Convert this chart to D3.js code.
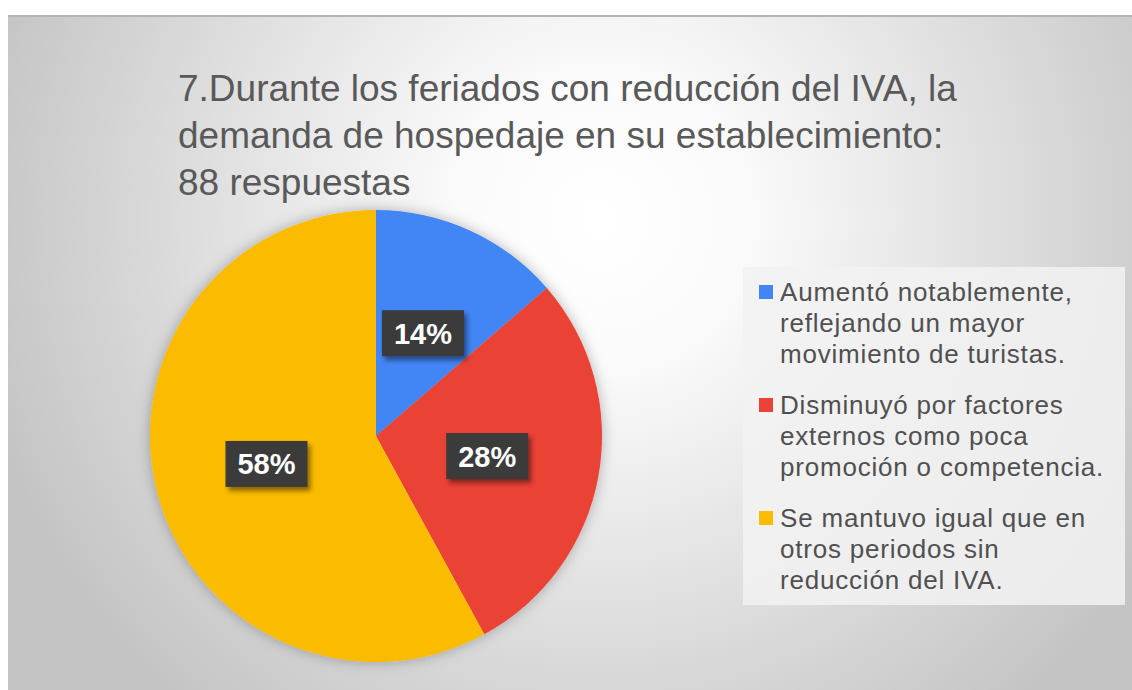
<!DOCTYPE html>
<html>
  <head>
    <meta charset="utf-8">
    <title>Pie chart</title>
    <style>
      body { margin: 0; background: #fff; }
      text { font-family: 'Liberation Sans', Arial, sans-serif; }
    </style>
  </head>
  <body>
    <div><svg id='piechart'/></div>
  </body>
  <script type="text/javascript" src="https://cdn.jsdelivr.net/npm/d3@7"></script>
  <script type="text/javascript">
    // datos de la encuesta (88 respuestas)
    const titleLines = [
      '7.Durante los feriados con reducción del IVA, la',
      'demanda de hospedaje en su establecimiento:',
      '88 respuestas'
    ];
    const categories = [
      'Aumentó notablemente, reflejando un mayor movimiento de turistas.',
      'Disminuyó por factores externos como poca promoción o competencia.',
      'Se mantuvo igual que en otros periodos sin reducción del IVA.'
    ];
    const counts = [12, 25, 51];
    const colors = ['#4285F4', '#EA4335', '#FBBC04'];

    const [width, height] = [1132, 690];
    var svg = d3.select('#piechart')
      .attr('width', width)
      .attr('height', height)

    var defs = svg.append('defs')

    // fondo degradado radial
    var grad = defs.append('radialGradient')
      .attr('id', 'bg')
      .attr('gradientUnits', 'userSpaceOnUse')
      .attr('cx', 600).attr('cy', 220).attr('r', 640)
    grad.append('stop').attr('offset', 0).attr('stop-color', '#ffffff')
    grad.append('stop').attr('offset', 0.22).attr('stop-color', '#fbfbfb')
    grad.append('stop').attr('offset', 1).attr('stop-color', '#c4c4c4')

    var shadow = defs.append('filter').attr('id', 'pieShadow')
      .attr('x', '-20%').attr('y', '-20%').attr('width', '140%').attr('height', '140%')
    shadow.append('feDropShadow')
      .attr('dx', 0).attr('dy', 0).attr('stdDeviation', 7)
      .attr('flood-color', '#000').attr('flood-opacity', 0.28)

    var boxShadow = defs.append('filter').attr('id', 'boxShadow')
      .attr('x', '-20%').attr('y', '-20%').attr('width', '150%').attr('height', '160%')
    boxShadow.append('feDropShadow')
      .attr('dx', 3).attr('dy', 4).attr('stdDeviation', 2.5)
      .attr('flood-color', '#000').attr('flood-opacity', 0.45)

    svg.append('rect')
      .attr('x', 8).attr('y', 15)
      .attr('width', width - 8).attr('height', height - 15)
      .attr('fill', 'url(#bg)')
    svg.append('line')
      .attr('x1', 8).attr('x2', width)
      .attr('y1', 16).attr('y2', 16)
      .attr('stroke', '#b4b4b4').attr('stroke-width', 2)

    // titulo
    svg.append('g')
      .selectAll('text')
      .data(titleLines)
      .enter()
      .append('text')
      .attr('x', 178)
      .attr('y', (d, i) => 101 + i * 47)
      .attr('fill', '#595959')
      .style('font-size', '37px')
      .text(d => d)

    // pastel
    var radius = 226
    var cx = 376, cy = 436
    var arc = d3.arc().innerRadius(0).outerRadius(radius)

    var drawData = d3.pie()
      .value(d => d)
      .sort(null)
      .startAngle(0)
      .endAngle(Math.PI * 2)(counts)

    var colorScale = d3.scaleOrdinal()
      .domain(d3.range(0, counts.length))
      .range(colors)

    var g = svg.append('g')
      .attr('transform', 'translate(' + cx + ',' + cy + ')')

    g.append('g')
      .attr('filter', 'url(#pieShadow)')
      .selectAll('path')
      .data(drawData)
      .enter()
      .append('path')
      .attr('fill', d => colorScale(d.index))
      .attr('d', arc)

    // etiquetas de porcentaje
    var total = d3.sum(counts)
    var labels = g.append('g')
      .selectAll('g')
      .data(drawData)
      .enter()
      .append('g')
      .attr('transform', d => 'translate(' + arc.centroid(d) + ')')

    labels.append('rect')
      .attr('x', -41).attr('y', -23)
      .attr('width', 82).attr('height', 46)
      .attr('fill', '#3b3b3b')
      .attr('filter', 'url(#boxShadow)')

    labels.append('text')
      .attr('text-anchor', 'middle')
      .attr('dy', '0.36em')
      .attr('fill', '#fff')
      .style('font-size', '29px')
      .style('font-weight', 'bold')
      .text(d => Math.round(d.data / total * 100) + '%')

    // leyenda
    svg.append('rect')
      .attr('x', 743).attr('y', 267)
      .attr('width', 382).attr('height', 338)
      .attr('fill', '#f2f2f2')
      .attr('fill-opacity', 0.85)

    var lineH = 31, itemGap = 20, maxW = 335
    var legend = svg.append('g')
    var y0 = 292
    categories.forEach(function(cat, i) {
      var item = legend.append('g')
      item.append('rect')
        .attr('x', 759).attr('y', y0 - 7)
        .attr('width', 14).attr('height', 14)
        .attr('fill', colorScale(i))
      var text = item.append('text')
        .attr('x', 780)
        .attr('fill', '#505050')
        .style('font-size', '26px')
        .style('letter-spacing', '0.8px')
      // partir el texto en lineas
      var words = cat.split(' '), line = [], n = 0
      var tspan = text.append('tspan').attr('x', 780).attr('y', y0).attr('dy', '0.35em')
      words.forEach(function(w) {
        line.push(w)
        tspan.text(line.join(' '))
        if (tspan.node().getComputedTextLength() > maxW && line.length > 1) {
          line.pop()
          tspan.text(line.join(' '))
          line = [w]
          n++
          tspan = text.append('tspan').attr('x', 780)
            .attr('y', y0 + n * lineH).attr('dy', '0.35em').text(w)
        }
      })
      y0 += (n + 1) * lineH + itemGap
    })
  </script>
</html>
